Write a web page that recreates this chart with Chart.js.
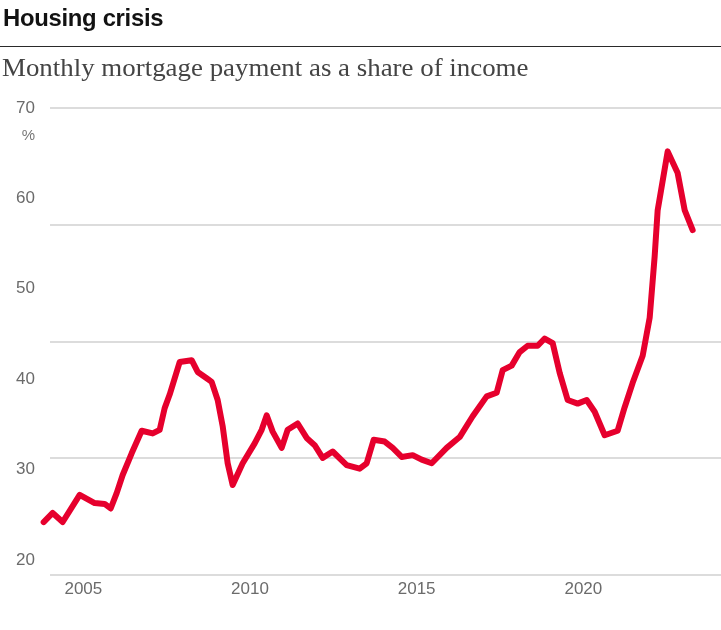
<!DOCTYPE html>
<html>
<head>
    <title>Housing crisis</title>
    <script src="https://cdn.jsdelivr.net/npm/chart.js"></script>
    <style>
        body { margin: 0; background: #fff; }
        #wrap { position: relative; width: 721px; height: 630px; overflow: hidden; }
        #grafico { position: absolute; left: 0; top: 0; }
        .titulo { position: absolute; left: 3px; top: 6.4px; font: bold 24px 'Liberation Sans', sans-serif; line-height: 1; color: #121212; letter-spacing: -0.3px; white-space: nowrap; transform-origin: 0 0; }
        .regua { position: absolute; left: 0; top: 46px; width: 721px; height: 1px; background: #2a2a2a; }
        .subtitulo { position: absolute; left: 2px; top: 55px; font: 25px 'Liberation Serif', serif; line-height: 1; color: #444; white-space: nowrap; transform-origin: 0 0; }
        .unidade { position: absolute; left: 15px; width: 20px; top: 127px; text-align: right; font: 15px 'Liberation Sans', sans-serif; line-height: 1; color: #777; }
    </style>
</head>
<body>
<div id="wrap">
    <canvas id="grafico" width="721" height="630"></canvas>
    <div class="titulo" id="titulo">Housing crisis</div>
    <div class="regua"></div>
    <div class="subtitulo" id="subtitulo">Monthly mortgage payment as a share of income</div>
    <div class="unidade">%</div>
</div>

<script>
    // valores (ano decimal, % da renda)
    const anos = [
        2003.81, 2004.08, 2004.38, 2004.89, 2005.34, 2005.64, 2005.82, 2006.0, 2006.18, 2006.45,
        2006.75, 2007.08, 2007.29, 2007.44, 2007.59, 2007.89, 2008.25, 2008.43, 2008.70, 2008.85,
        2009.03, 2009.18, 2009.33, 2009.48, 2009.78, 2010.14, 2010.35, 2010.5, 2010.68, 2010.95,
        2011.13, 2011.43, 2011.70, 2011.94, 2012.18, 2012.48, 2012.90, 2013.29, 2013.5, 2013.71,
        2014.04, 2014.28, 2014.55, 2014.88, 2015.15, 2015.45, 2015.9, 2016.29, 2016.68, 2017.1,
        2017.4, 2017.58, 2017.85, 2018.09, 2018.33, 2018.63, 2018.84, 2019.08, 2019.29, 2019.53,
        2019.83, 2020.1, 2020.34, 2020.64, 2021.03, 2021.24, 2021.48, 2021.78, 2021.99, 2022.14,
        2022.23, 2022.53, 2022.83, 2023.04, 2023.28
    ];
    const parcela = [
        24.2, 25.2, 24.2, 27.2, 26.3, 26.2, 25.7, 27.4, 29.4, 31.8,
        34.3, 34.0, 34.4, 36.8, 38.3, 41.9, 42.1, 40.8, 40.1, 39.7,
        37.7, 34.8, 30.7, 28.3, 30.7, 32.9, 34.4, 36.0, 34.2, 32.4,
        34.4, 35.1, 33.5, 32.7, 31.3, 32.0, 30.5, 30.1, 30.7, 33.3,
        33.1, 32.4, 31.4, 31.6, 31.1, 30.7, 32.4, 33.6, 35.9, 38.1,
        38.5, 41.0, 41.5, 43.0, 43.7, 43.7, 44.5, 44.0, 40.7, 37.7,
        37.3, 37.7, 36.4, 33.8, 34.3, 36.9, 39.6, 42.6, 46.8, 53.6,
        58.7, 65.2, 62.8, 58.7, 56.5
    ];
    const rotulosY = [20, 30, 40, 50, 60, 70];
    const rotulosX = [2005, 2010, 2015, 2020];

    // ajusta a largura dos textos do cabeçalho à do original
    function ajustaLargura(id, largura) {
        const el = document.getElementById(id);
        el.style.transform = 'scaleX(' + (largura / el.offsetWidth) + ')';
    }
    ajustaLargura('titulo', 160);
    ajustaLargura('subtitulo', 526);

    const fonteEixo = { family: "'Liberation Sans', sans-serif", size: 17 };

    const ctx = document.getElementById('grafico').getContext('2d');
    const myChart = new Chart(ctx, {
        type: 'line',
        data: {
            datasets: [{
                data: anos.map((a, i) => ({ x: a, y: parcela[i] })),
                borderColor: '#e6002d',
                borderWidth: 6,
                borderJoinStyle: 'round',
                borderCapStyle: 'round',
                pointRadius: 0,
                tension: 0,
                clip: false
            }]
        },
        options: {
            responsive: false,
            animation: false,
            devicePixelRatio: 1,
            layout: { padding: { top: 108, left: 0, right: 0, bottom: 0 } },
            plugins: { legend: { display: false }, tooltip: { enabled: false } },
            scales: {
                x: {
                    type: 'linear',
                    position: 'bottom',
                    min: 2004,
                    max: 2024.13,
                    afterBuildTicks: s => { s.ticks = rotulosX.map(v => ({ value: v })); },
                    afterFit: s => { s.height = 55; },
                    grid: { display: false, drawTicks: false },
                    border: { display: false },
                    ticks: { font: fonteEixo, color: '#6b6b6b', padding: 4, callback: v => String(v) }
                },
                y: {
                    type: 'linear',
                    position: 'left',
                    min: 18.34,
                    max: 70,
                    afterBuildTicks: s => { s.ticks = rotulosY.map(v => ({ value: v })); },
                    afterFit: s => { s.width = 50; },
                    grid: { display: false, drawTicks: false },
                    border: { display: false },
                    ticks: { font: fonteEixo, color: '#6b6b6b', padding: 15 }
                },
                // linhas de grade (não alinhadas com os rótulos no original)
                grade: {
                    type: 'linear',
                    position: 'right',
                    min: 0,
                    max: 4,
                    afterBuildTicks: s => { s.ticks = [0, 1, 2, 3, 4].map(v => ({ value: v })); },
                    afterFit: s => { s.width = 0; },
                    grid: { color: '#dcdcdc', lineWidth: 2, drawTicks: false },
                    border: { display: false },
                    ticks: { display: false }
                }
            }
        }
    });
</script>
</body>
</html>
